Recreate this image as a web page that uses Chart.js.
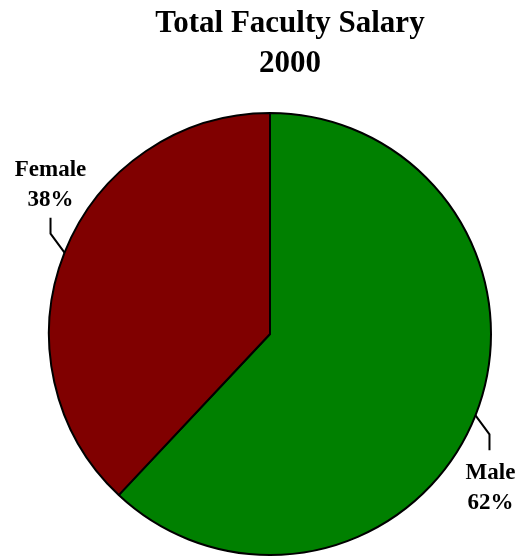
<!DOCTYPE html>
<html lang="en">
<head>
    <meta charset="UTF-8">
    <title>Total Faculty Salary 2000</title>
    <script src="https://cdn.jsdelivr.net/npm/chart.js"></script>
    <style>
        body { margin: 0; background: #fff; }
    </style>
</head>
<body>
    <canvas id="salaryChart" width="529" height="556"></canvas>

    <script>
        const titleLines = ['Total Faculty Salary', '2000'];
        const categories = ['Male', 'Female'];
        const shares = [62, 38];
        const sliceColors = ['#008000', '#800000'];

        const serif = '"Liberation Serif", "Times New Roman", serif';

        // title + leader-line labels drawn on top of the pie
        const labelPlugin = {
            id: 'pieLabels',
            afterDraw(chart) {
                const ctx = chart.ctx;
                ctx.save();
                ctx.fillStyle = '#000';
                ctx.textAlign = 'center';
                ctx.textBaseline = 'alphabetic';
                ctx.font = 'bold 31px ' + serif;
                ctx.fillText(titleLines[0], 290, 32);
                ctx.fillText(titleLines[1], 290, 72);

                const total = shares.reduce((a, b) => a + b, 0);
                const arcs = chart.getDatasetMeta(0).data;
                ctx.strokeStyle = '#000';
                ctx.lineWidth = 2;
                ctx.font = 'bold 23px ' + serif;
                arcs.forEach((arc, i) => {
                    const mid = (arc.startAngle + arc.endAngle) / 2;
                    const r = arc.outerRadius;
                    const cos = Math.cos(mid), sin = Math.sin(mid);
                    const x0 = arc.x + cos * r, y0 = arc.y + sin * r;
                    const dir = sin < 0 ? -1 : 1;
                    const x1 = x0 + Math.sign(cos) * 14, y1 = y0 + dir * 19;
                    const y2 = y1 + dir * 16;
                    ctx.beginPath();
                    ctx.moveTo(x0, y0);
                    ctx.lineTo(x1, y1);
                    ctx.lineTo(x1, y2);
                    ctx.stroke();
                    const pct = Math.round(shares[i] / total * 100) + '%';
                    if (dir < 0) {
                        ctx.fillText(pct, x1, y2 - 12);
                        ctx.fillText(categories[i], x1, y2 - 42);
                    } else {
                        ctx.fillText(categories[i], x1 + 1, y2 + 29);
                        ctx.fillText(pct, x1 + 1, y2 + 59);
                    }
                });
                ctx.restore();
            }
        };

        new Chart(document.getElementById('salaryChart'), {
            type: 'pie',
            data: {
                labels: categories,
                datasets: [{
                    data: shares,
                    backgroundColor: sliceColors,
                    borderColor: '#000',
                    borderWidth: 2
                }]
            },
            options: {
                responsive: false,
                animation: false,
                layout: { padding: { top: 112, left: 48, right: 37, bottom: 0 } },
                plugins: {
                    legend: { display: false },
                    tooltip: { enabled: false },
                    title: { display: false }
                }
            },
            plugins: [labelPlugin]
        });
    </script>
</body>
</html>
